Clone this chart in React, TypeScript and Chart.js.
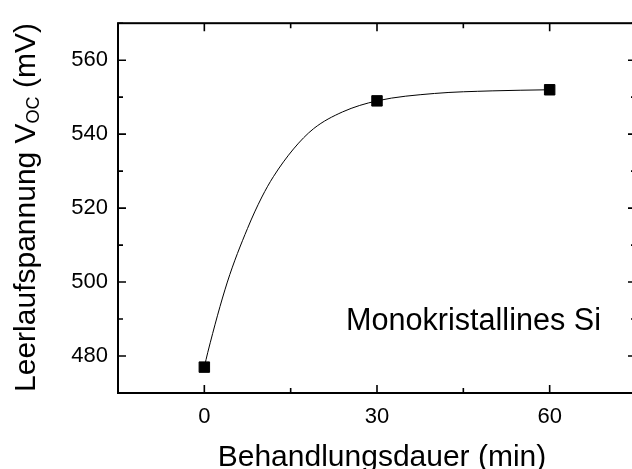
import React, { useEffect, useRef } from "react";
import { Chart, registerables } from "chart.js";

Chart.register(...registerables);

// Measured data points
const times = [0, 30, 60];
const voc = [477, 549, 552];

// Fit curve
const fitX = [0, 0.6, 4, 7.5, 10, 12, 15.5, 19, 24, 30, 40, 50, 60];
const fitY = [477, 481, 500, 514.5, 523, 528.5, 536, 541.5, 546, 549, 551, 551.7, 552];

// Axes
const xTicks = [0, 30, 60];
const xMinor = [-15, 15, 45, 75];
const yTicks = [480, 500, 520, 540, 560];
const yMinor = [470, 490, 510, 530, 550, 570];

const xTitle = "Behandlungsdauer (min)";
const yTitleMain = "Leerlaufspannung V";
const yTitleSub = "OC";
const yTitleEnd = " (mV)";
const annotation = "Monokristallines Si";

const FONT = "Arial, 'Liberation Sans', Helvetica, sans-serif";
const W = 660;
const H = 469;

const framePlugin = {
  id: "framePlugin",
  afterDraw(chart: any) {
    const { ctx, chartArea, scales } = chart;
    const { left, right, top, bottom } = chartArea;
    const xs = scales.x;
    const ys = scales.y;
    ctx.save();
    ctx.strokeStyle = "#000";
    ctx.lineWidth = 1.6;
    const majorLen = 8;
    const minorLen = 5;
    const xTick = (v: number, len: number) => {
      const px = xs.getPixelForValue(v);
      ctx.beginPath();
      ctx.moveTo(px, bottom);
      ctx.lineTo(px, bottom - len);
      ctx.moveTo(px, top);
      ctx.lineTo(px, top + len);
      ctx.stroke();
    };
    const yTick = (v: number, len: number) => {
      const py = ys.getPixelForValue(v);
      ctx.beginPath();
      ctx.moveTo(left, py);
      ctx.lineTo(left + len, py);
      ctx.moveTo(right, py);
      ctx.lineTo(right - len, py);
      ctx.stroke();
    };
    xTicks.forEach((v) => xTick(v, majorLen));
    xMinor.forEach((v) => xTick(v, minorLen));
    yTicks.forEach((v) => yTick(v, majorLen));
    yMinor.forEach((v) => yTick(v, minorLen));
    ctx.lineWidth = 2;
    ctx.strokeRect(left, top, right - left, bottom - top);

    ctx.fillStyle = "#000";
    ctx.font = `30px ${FONT}`;
    ctx.textAlign = "center";
    ctx.textBaseline = "alphabetic";
    ctx.fillText(xTitle, 382, 466);

    ctx.font = `30.6px ${FONT}`;
    ctx.textAlign = "left";
    ctx.fillText(annotation, xs.getPixelForValue(24.6), ys.getPixelForValue(487));

    ctx.translate(35, 0);
    ctx.rotate(-Math.PI / 2);
    ctx.font = `30px ${FONT}`;
    const w1 = ctx.measureText(yTitleMain).width;
    const w3 = ctx.measureText(yTitleEnd).width;
    ctx.font = `18px ${FONT}`;
    const w2 = ctx.measureText(yTitleSub).width;
    const total = w1 + w2 + w3;
    const cy = 207.5;
    const start = -cy - total / 2;
    ctx.textAlign = "left";
    ctx.font = `30px ${FONT}`;
    ctx.fillText(yTitleMain, start, 0);
    ctx.font = `18px ${FONT}`;
    ctx.fillText(yTitleSub, start + w1, 4);
    ctx.font = `30px ${FONT}`;
    ctx.fillText(yTitleEnd, start + w1 + w2, 0);
    ctx.restore();
  },
};

export default function App() {
  const ref = useRef<HTMLCanvasElement | null>(null);

  useEffect(() => {
    document.body.style.margin = "0";
    document.body.style.overflow = "hidden";
    const canvas = ref.current!;
    const chart = new Chart(canvas, {
      type: "scatter",
      data: {
        datasets: [
          {
            type: "scatter",
            data: times.map((t, i) => ({ x: t, y: voc[i] })),
            pointStyle: "rect",
            pointRadius: 7.4,
            backgroundColor: "#000",
            borderColor: "#000",
            borderWidth: 1,
            order: 0,
          },
          {
            type: "line",
            data: fitX.map((t, i) => ({ x: t, y: fitY[i] })),
            borderColor: "#000",
            borderWidth: 1,
            pointRadius: 0,
            cubicInterpolationMode: "monotone",
            fill: false,
            order: 1,
          },
        ],
      } as any,
      options: {
        responsive: false,
        animation: false,
        devicePixelRatio: 1,
        layout: { padding: { left: 0, top: 15, right: W - 636, bottom: 0 } },
        plugins: { legend: { display: false }, tooltip: { enabled: false } },
        scales: {
          x: {
            type: "linear",
            min: -15,
            max: 75,
            afterBuildTicks: (s: any) => {
              s.ticks = xTicks.map((v) => ({ value: v }));
            },
            afterFit: (s: any) => {
              s.height = 76;
            },
            grid: { display: false, drawTicks: false },
            border: { display: false },
            ticks: {
              color: "#000",
              padding: 11,
              font: { family: FONT, size: 22 },
              maxRotation: 0,
            },
          },
          y: {
            type: "linear",
            min: 470,
            max: 570,
            afterBuildTicks: (s: any) => {
              s.ticks = yTicks.map((v) => ({ value: v }));
            },
            afterFit: (s: any) => {
              s.width = 118;
            },
            grid: { display: false, drawTicks: false },
            border: { display: false },
            ticks: {
              color: "#000",
              padding: 10,
              font: { family: FONT, size: 22 },
            },
          },
        },
      } as any,
      plugins: [framePlugin],
    });
    return () => chart.destroy();
  }, []);

  return (
    <div style={{ position: "fixed", left: 0, top: 0, width: 632, height: 469, overflow: "hidden", background: "#fff" }}>
      <canvas ref={ref} width={W} height={H} style={{ width: W, height: H, display: "block" }} />
    </div>
  );
}
